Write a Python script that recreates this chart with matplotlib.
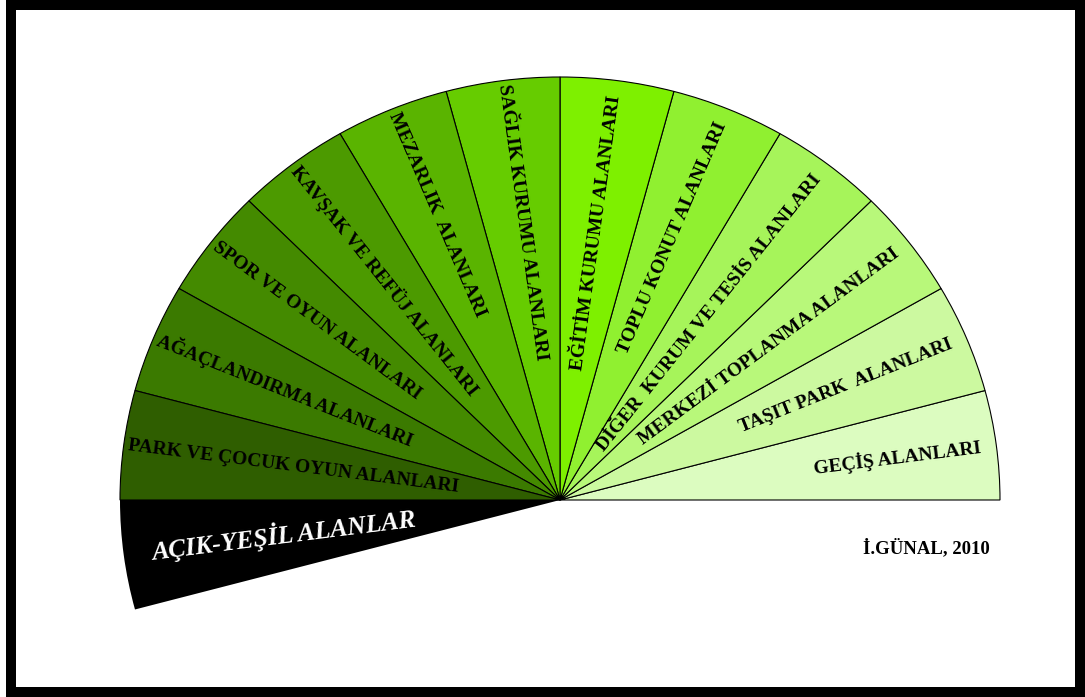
import numpy as np
import matplotlib.pyplot as plt
from matplotlib.patches import Rectangle

# dilimler saat yönünün tersine, sağdan (0 derece) başlayarak
labels = ['GEÇİŞ ALANLARI', 'TAŞIT PARK  ALANLARI', 'MERKEZİ TOPLANMA ALANLARI',
          'DİĞER  KURUM VE TESİS ALANLARI', 'TOPLU KONUT ALANLARI', 'EĞİTİM KURUMU ALANLARI',
          'SAĞLIK KURUMU ALANLARI', 'MEZARLIK  ALANLARI', 'KAVŞAK VE REFÜJ ALANLARI',
          'SPOR VE OYUN ALANLARI', 'AĞAÇLANDIRMA ALANLARI', 'PARK VE ÇOCUK OYUN ALANLARI',
          'AÇIK-YEŞİL ALANLAR']
values = [1, 1, 1, 1, 1, 1, 1, 1, 1, 1, 1, 1, 1]
gap = 11  # boş kalan kısım
colors = ['#dcfcc0', '#ccf9a0', '#b8f87a', '#a6f45a', '#90f030', '#7ef000',
          '#66cc00', '#5ab400', '#4c9a00', '#448a00', '#3b7a00', '#2f5e00', '#000000']
source = 'İ.GÜNAL, 2010'

W, H = 1085, 697
cx, cy = 560, 500     # merkez (piksel)
rx, ry = 440, 423     # yarıçaplar (piksel)

fig = plt.figure(figsize=(W / 100, H / 100), dpi=100)
ax = fig.add_axes([0, 0, 1, 1])

wedges, _ = ax.pie(values + [gap], colors=colors + ['none'], startangle=0,
                   counterclock=True, radius=1,
                   wedgeprops=dict(edgecolor='black', linewidth=0.8))
wedges[-1].set_edgecolor('none')
wedges[-2].set_edgecolor('none')

ax.set_aspect('auto')
ax.set_xlim(-cx / rx, (W - cx) / rx)
ax.set_ylim(-(H - cy) / ry, cy / ry)
ax.axis('off')

step = 360.0 / (sum(values) + gap)
for i, lab in enumerate(labels):
    th = np.radians(step * (i + 0.5))
    phi = np.degrees(np.arctan2(ry * np.sin(th), rx * np.cos(th)))
    if i == len(labels) - 1:
        r = 0.935
        ax.text(r * np.cos(th), r * np.sin(th), lab, rotation=phi - 180, rotation_mode='anchor',
                ha='left', va='center', fontsize=18.5, fontweight='bold', style='italic',
                color='white', family='Liberation Serif')
    elif step * (i + 0.5) < 90:
        r = 0.965
        ax.text(r * np.cos(th), r * np.sin(th), lab, rotation=phi, rotation_mode='anchor',
                ha='right', va='center', fontsize=14, fontweight='bold',
                color='black', family='Liberation Serif')
    else:
        r = 0.99
        ax.text(r * np.cos(th), r * np.sin(th), lab, rotation=phi - 180, rotation_mode='anchor',
                ha='left', va='center', fontsize=14, fontweight='bold',
                color='black', family='Liberation Serif')

fig.text(990 / W, 1 - 548 / H, source, ha='right', va='center', fontsize=13.5,
         fontweight='bold', family='Liberation Serif')

# çerçeve
fig.patches.append(Rectangle((11 / W, 5 / H), (W - 16) / W, (H - 10) / H, transform=fig.transFigure,
                             fill=False, edgecolor='black', linewidth=7.2))

fig.savefig('out.png', dpi=100)
